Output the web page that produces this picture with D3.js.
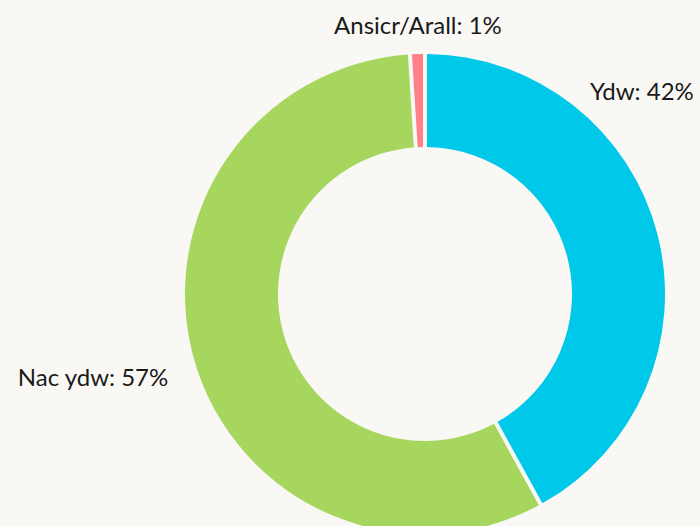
<!DOCTYPE html>
<html>
<head>
<meta charset="utf-8">
<script src="https://cdn.jsdelivr.net/npm/d3@7"></script>
<style>
  body { margin: 0; background: #f9f8f5; }
  svg { display: block; }
  text { font-family: Lato, "Open Sans", sans-serif; fill: #1a1a1a; }
</style>
</head>
<body>
<div id="chart"></div>
<script>
// chart data
const categories = ["Ydw", "Nac ydw", "Ansicr/Arall"];
const values = [42, 57, 1];
const colors = ["#00c8e8", "#a6d65e", "#ff8089"];

const width = 700;
const height = 526;
const cx = 425, cy = 294;
const outerR = 240, innerR = 147;

// label placement (angle in degrees from 12 o'clock, radius, anchor)
const labelLayout = [
    { angle: 39.2, r: 261, anchor: "start" },
    { angle: 252, r: 270, anchor: "end" },
    { angle: -1.5, r: 269, anchor: "middle" }
];

const svg = d3.select("#chart")
    .append("svg")
    .attr("width", width)
    .attr("height", height);

const g = svg.append("g")
    .attr("transform", `translate(${cx},${cy})`);

const pie = d3.pie()
    .sort(null)
    .value(d => d);

const arc = d3.arc()
    .innerRadius(innerR)
    .outerRadius(outerR)
    .padRadius(outerR)
    .padAngle(4 / outerR);

const arcs = pie(values);

g.selectAll("path")
    .data(arcs)
    .enter()
    .append("path")
    .attr("d", arc)
    .attr("fill", (d, i) => colors[i]);

// labels
g.selectAll("text.lbl")
    .data(arcs)
    .enter()
    .append("text")
    .attr("class", "lbl")
    .attr("x", (d, i) => labelLayout[i].r * Math.sin(labelLayout[i].angle * Math.PI / 180))
    .attr("y", (d, i) => -labelLayout[i].r * Math.cos(labelLayout[i].angle * Math.PI / 180))
    .attr("dy", "0.35em")
    .attr("text-anchor", (d, i) => labelLayout[i].anchor)
    .style("font-size", "24px")
    .text((d, i) => `${categories[i]}: ${values[i]}%`);
</script>
</body>
</html>
